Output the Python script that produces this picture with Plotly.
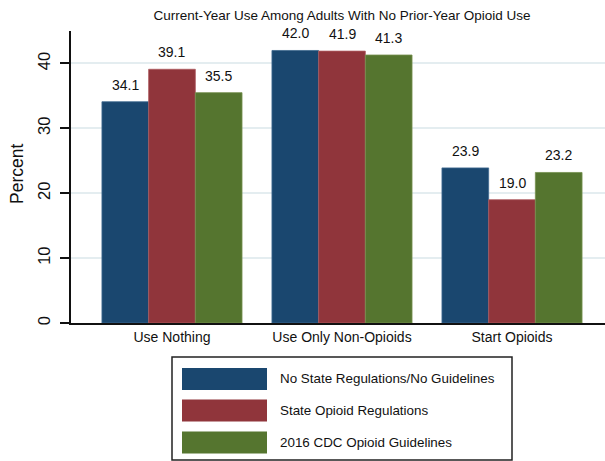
import plotly.graph_objects as go

# Outcome categories and group shares (percent)
categories = ["Use Nothing", "Use Only Non-Opioids", "Start Opioids"]
series_names = [
    "No State Regulations/No Guidelines",
    "State Opioid Regulations",
    "2016 CDC Opioid Guidelines",
]
no_regs = [34.1, 42.0, 23.9]
state_regs = [39.1, 41.9, 19.0]
cdc_guidelines = [35.5, 41.3, 23.2]
y_ticks = [0, 10, 20, 30, 40]

series_values = [no_regs, state_regs, cdc_guidelines]
colors = ["#1a476f", "#90353b", "#55752f"]
edge_colors = ["#3f6a8f", "#ad5a60", "#76914f"]

W, H = 605, 461
L, R, T, B = 71, 0, 31, 138
PW, PH = W - L - R, H - T - B
FONT = "Arial, Liberation Sans, sans-serif"


def px_x(px):
    return (px - L) / PW


def px_y(py):
    return (H - B - py) / PH


fig = go.Figure()
bar_w_px = 46.5
for i, (name, vals, col, ecol) in enumerate(zip(series_names, series_values, colors, edge_colors)):
    fig.add_trace(go.Bar(
        name=name, x=categories, y=vals,
        marker=dict(color=col, line=dict(color=ecol, width=0.8)),
        showlegend=False, cliponaxis=False,
    ))
    for cat, v in zip(categories, vals):
        fig.add_annotation(
            x=cat, y=v, xref="x", yref="y", text=f"{v:.1f}",
            showarrow=False, yanchor="bottom", yshift=7,
            xshift=(i - 1) * bar_w_px,
            font=dict(family=FONT, size=14, color="#111111"),
        )

# Legend drawn as a framed key below the chart
fig.add_shape(type="rect", xref="paper", yref="paper",
              x0=px_x(172), x1=px_x(512), y0=px_y(357), y1=px_y(460),
              line=dict(color="#222222", width=1.5), fillcolor="white")
row_centers = [379, 410.5, 442.5]
for name, col, cy in zip(series_names, colors, row_centers):
    fig.add_shape(type="rect", xref="paper", yref="paper",
                  x0=px_x(182), x1=px_x(267), y0=px_y(cy - 11), y1=px_y(cy + 11),
                  line=dict(width=0), fillcolor=col)
    fig.add_annotation(x=px_x(278), y=px_y(cy), xref="paper", yref="paper",
                       text=name, showarrow=False, xanchor="left", yanchor="middle",
                       font=dict(family=FONT, size=13.4, color="#111111"))

# Y-axis title
fig.add_annotation(x=px_x(17), y=px_y(174), xref="paper", yref="paper",
                   text="Percent", textangle=-90, showarrow=False,
                   xanchor="center", yanchor="middle",
                   font=dict(family=FONT, size=17.5, color="#111111"))

fig.update_layout(
    width=W, height=H,
    margin=dict(l=L, r=R, t=T, b=B, pad=0),
    paper_bgcolor="white", plot_bgcolor="white",
    barmode="group", bargap=0.176, bargroupgap=0,
    title=dict(text="Current-Year Use Among Adults With No Prior-Year Opioid Use",
               x=342 / W, xref="container", xanchor="center",
               y=1 - 15 / H, yref="container", yanchor="middle",
               font=dict(family=FONT, size=13.5, color="#111111")),
    font=dict(family=FONT, color="#111111"),
)
fig.update_xaxes(
    type="category", range=[-0.594, 2.547],
    showline=True, linecolor="#111111", linewidth=1.5,
    ticks="", showgrid=False, zeroline=False,
    tickfont=dict(family=FONT, size=14, color="#111111"),
)
fig.update_yaxes(
    range=[0, 45], tickvals=y_ticks, ticktext=[str(t) for t in y_ticks],
    showline=True, linecolor="#111111", linewidth=1.5,
    ticks="outside", ticklen=9, tickwidth=1.5, tickcolor="#111111",
    showgrid=True, gridcolor="#e4edf0", gridwidth=1.5, zeroline=False,
    tickangle=-90, ticklabelstandoff=4,
    tickfont=dict(family=FONT, size=16.5, color="#111111"),
)

fig.write_html("out.html")
